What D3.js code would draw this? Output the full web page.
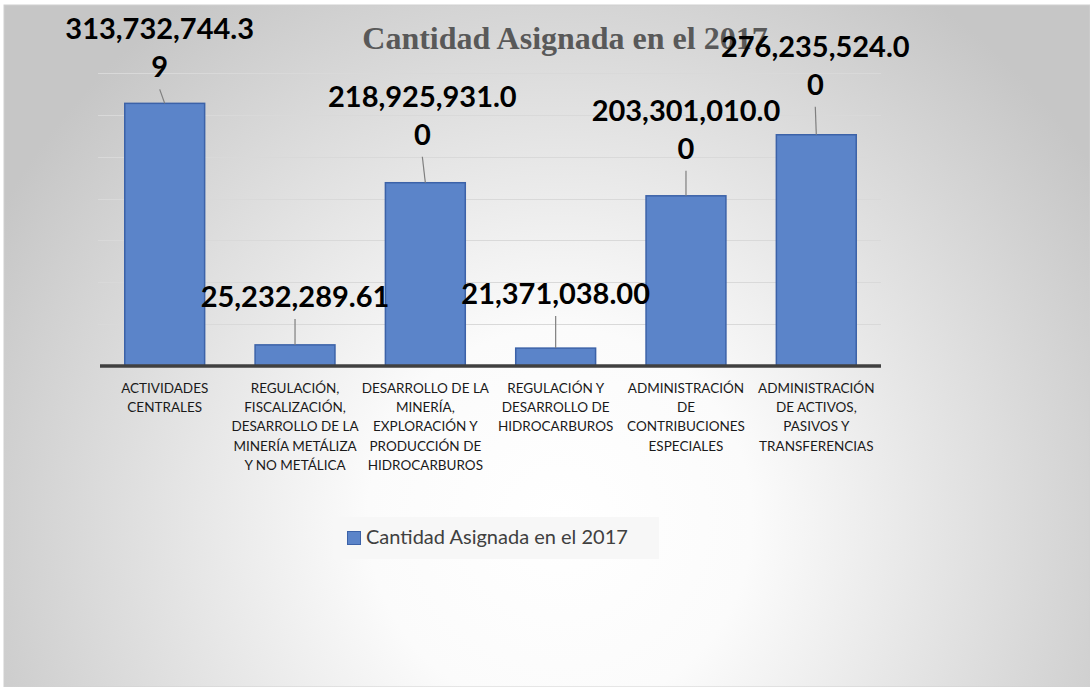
<!DOCTYPE html>
<html>
<head>
<meta charset="utf-8">
<script src="https://cdn.jsdelivr.net/npm/d3@7"></script>
<style>
  body { margin: 0; background: #fff; }
  svg { display: block; }
</style>
</head>
<body>
<div id="chart"></div>
<script>
// datos
var categorias = [
    ["ACTIVIDADES", "CENTRALES"],
    ["REGULACIÓN,", "FISCALIZACIÓN,", "DESARROLLO DE LA", "MINERÍA METÁLIZA", "Y NO METÁLICA"],
    ["DESARROLLO DE LA", "MINERÍA,", "EXPLORACIÓN Y", "PRODUCCIÓN DE", "HIDROCARBUROS"],
    ["REGULACIÓN Y", "DESARROLLO DE", "HIDROCARBUROS"],
    ["ADMINISTRACIÓN", "DE", "CONTRIBUCIONES", "ESPECIALES"],
    ["ADMINISTRACIÓN", "DE ACTIVOS,", "PASIVOS Y", "TRANSFERENCIAS"]
];
var valores = [313732744.39, 25232289.61, 218925931.00, 21371038.00, 203301010.00, 276235524.00];
var ticksY = [0, 50e6, 100e6, 150e6, 200e6, 250e6, 300e6, 350e6];
var serie = "Cantidad Asignada en el 2017";
var titulo = "Cantidad Asignada en el 2017";

// ajuste manual de etiquetas (dx, separacion sobre la barra), como en el original
var etiquetaAjuste = [[-5, 26], [0, 38], [-3, 38], [0, 44], [0, 37], [-1, 40]];

var W = 1090, H = 687;
var colorBarra = "#5b84c9", bordeBarra = "#3c62a8";

var svg = d3.select("#chart").append("svg")
    .attr("width", W)
    .attr("height", H);

var defs = svg.append("defs");
var grad = defs.append("radialGradient")
    .attr("id", "fondo")
    .attr("gradientUnits", "userSpaceOnUse")
    .attr("cx", 560).attr("cy", 520).attr("r", 640);
grad.append("stop").attr("offset", 0).attr("stop-color", "#ffffff");
grad.append("stop").attr("offset", 0.3).attr("stop-color", "#fbfbfb");
grad.append("stop").attr("offset", 1).attr("stop-color", "#c6c6c6");

svg.append("rect")
    .attr("x", 4).attr("y", 5)
    .attr("width", W - 4).attr("height", H - 5)
    .attr("fill", "url(#fondo)")
    .attr("stroke", "#d0d0d0");

var x = d3.scaleBand()
    .domain(d3.range(valores.length))
    .range([100, 881])
    .paddingInner(0.387)
    .paddingOuter(0.19);

var y = d3.scaleLinear()
    .domain([0, 350e6])
    .range([366, 73]);

// lineas de cuadricula
svg.append("g")
    .selectAll("line")
    .data(ticksY.slice(1))
    .enter()
    .append("line")
    .attr("x1", 98).attr("x2", 881)
    .attr("y1", d => Math.round(y(d)) + 0.5)
    .attr("y2", d => Math.round(y(d)) + 0.5)
    .attr("stroke", "#d9d9d9")
    .attr("stroke-width", 1.2);

// titulo (debajo de las etiquetas)
svg.append("text")
    .attr("x", 565)
    .attr("y", 49)
    .attr("text-anchor", "middle")
    .style("font-family", "'Liberation Serif', 'Times New Roman', serif")
    .style("font-weight", "bold")
    .style("font-size", "32px")
    .attr("fill", "#595959")
    .text(titulo);

// barras
svg.append("g")
    .selectAll("rect")
    .data(valores)
    .enter()
    .append("rect")
    .attr("x", (d, i) => x(i))
    .attr("y", d => y(d))
    .attr("width", x.bandwidth())
    .attr("height", d => y(0) - y(d))
    .attr("fill", colorBarra)
    .attr("stroke", bordeBarra)
    .attr("stroke-width", 1.5);

// eje x
var xAxis = d3.axisBottom(x).tickSize(0).tickSizeOuter(0).tickFormat("");
var gx = svg.append("g")
    .attr("transform", "translate(0," + y(0) + ")")
    .call(xAxis);
gx.select(".domain")
    .attr("d", "M100,0H881")
    .attr("stroke", "#404040")
    .attr("stroke-width", 3.5);

gx.selectAll(".tick").each(function (d) {
    var t = d3.select(this).append("text")
        .attr("x", x.bandwidth() / 2)
        .attr("y", 0)
        .attr("text-anchor", "middle")
        .attr("fill", "#1a1a1a")
        .style("font-family", "Lato, 'Open Sans', sans-serif")
        .style("font-size", "13.5px");
    categorias[d].forEach(function (linea, k) {
        t.append("tspan")
            .attr("x", 0)
            .attr("y", 27 + k * 19.2)
            .text(linea);
    });
});

// etiquetas de datos con lineas guia
var fmt = d3.format(",.2f");
var etiquetas = svg.append("g");
valores.forEach(function (v, i) {
    var s = fmt(v);
    var lineas = s.length > 13 ? [s.slice(0, 13), s.slice(13)] : [s];
    var cx = x(i) + x.bandwidth() / 2;
    var lx = cx + etiquetaAjuste[i][0];
    var base = y(v) - etiquetaAjuste[i][1];

    etiquetas.append("line")
        .attr("x1", cx).attr("y1", y(v))
        .attr("x2", lx).attr("y2", base + 12)
        .attr("stroke", "#7f7f7f")
        .attr("stroke-width", 1.2);

    var t = etiquetas.append("text")
        .attr("text-anchor", "middle")
        .style("font-family", "Lato, 'Open Sans', sans-serif")
        .style("font-weight", "bold")
        .style("font-size", "29px")
        .attr("fill", "#000");
    lineas.forEach(function (l, k) {
        t.append("tspan")
            .attr("x", lx)
            .attr("y", base - (lineas.length - 1 - k) * 38)
            .text(l);
    });
});

// leyenda
var ley = svg.append("g");
ley.append("rect")
    .attr("x", 333).attr("y", 517)
    .attr("width", 326).attr("height", 42)
    .attr("fill", "#f7f7f7");
ley.append("rect")
    .attr("x", 347.5).attr("y", 531.5)
    .attr("width", 13).attr("height", 13)
    .attr("fill", colorBarra)
    .attr("stroke", bordeBarra);
ley.append("text")
    .attr("x", 366)
    .attr("y", 544)
    .attr("fill", "#404040")
    .style("font-family", "Lato, 'Open Sans', sans-serif")
    .style("font-size", "20px")
    .text(serie);
</script>
</body>
</html>
